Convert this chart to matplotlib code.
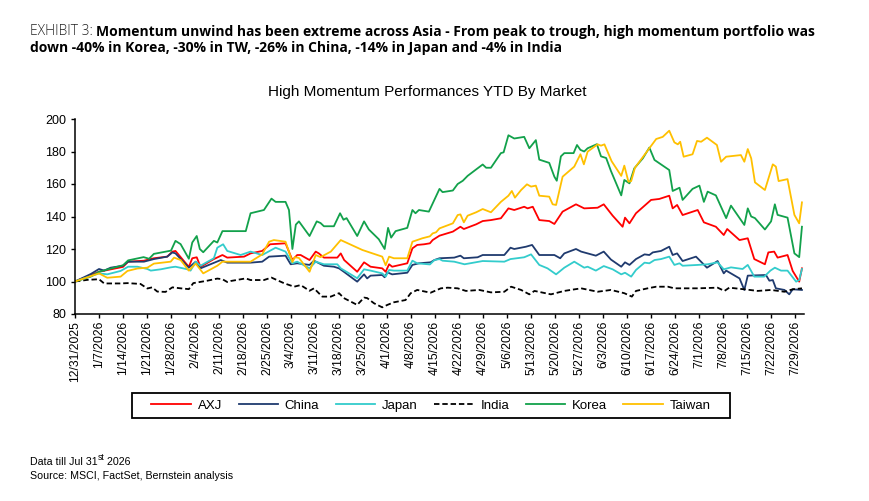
import numpy as np
import pandas as pd
import matplotlib
matplotlib.use("Agg")
import matplotlib.pyplot as plt
from matplotlib.patches import Rectangle

plt.rcParams['font.family'] = ['Liberation Sans', 'DejaVu Sans']

START = pd.Timestamp('2025-12-31')

# values: day offset from 12/31/2025 and index level
axj_days = [0, 7, 14, 15.5, 20.1, 23, 26.9, 28.4, 29.3, 33.2, 34.2, 35.5, 36.6, 40.5, 43, 44.4,
            49.3, 51.2, 54.6, 56.9, 61.4, 63.4, 64.8, 65.8, 68.4, 70.2, 71.1, 72.6, 76.5, 77.5,
            78.5, 82.3, 84.3, 86.2, 89.6, 90.6, 91.6, 92.5, 96.9, 98.4, 99.8, 101.8, 103.5, 104.3,
            106.3, 110.2, 112.4, 113.4, 117, 118.9, 121.3, 124.2, 126.4, 128.1, 131, 132, 133.5,
            135.4, 138.3, 139.8, 142.2, 146.1, 148.5, 152.4, 154.2, 156.8, 159.7, 160.4, 161.7,
            163.6, 168, 170.4, 173.3, 174.3, 175.6, 177.2, 181.6, 183.4, 186.9, 189.2, 190.2,
            193.8, 196.2, 198.1, 201.2, 202.2, 203.9, 204.9, 207.8, 209.3, 211.2, 212]
axj_vals = [100, 106, 109, 112.2, 112.8, 114.3, 115.3, 118.4, 118.8, 109, 114.3, 114.9, 109, 113.8, 116.3, 114.7,
            115.3, 117.3, 118.8, 122.9, 123.5, 113.2, 116.3, 116.3, 113.2, 118.4, 117.3, 114.7, 114.7, 117.3,
            113.2, 106, 111.8, 109.1, 108.1, 106, 110.6, 109.1, 111.2, 120.4, 122.5, 122.9, 123.5, 125.5,
            128.2, 130.7, 133.7, 132.3, 135.2, 137.2, 137.8, 138.9, 145, 144, 146, 145, 146,
            137.8, 137.2, 135.4, 143, 147.5, 145, 145.4, 147.5, 140.5, 133.7, 139.3, 135.8,
            142, 150.2, 150.8, 152.8, 145, 147.1, 140.9, 144, 136.4, 133.7, 128.6, 132.3,
            125.5, 126.6, 113.8, 110.6, 117.9, 118.4, 114.7, 116.3, 106.5, 99.9, 108.1]

china_days = [0, 4.6, 7, 8.5, 10.4, 14, 15.5, 20.1, 23, 26.9, 28.4, 29.3, 33.2, 35.2, 36.6, 42.5, 44.4,
              51.2, 54.6, 56.6, 61.4, 62.9, 64.8, 68.4, 69.7, 72.6, 75.5, 77, 78.4, 82.3, 84.3, 85.2,
              86.2, 89.6, 90.3, 91.1, 92.5, 96.9, 98.4, 100.3, 103.7, 104.8, 106.3, 110.6, 112.4, 113.4,
              117.4, 118.9, 125.2, 127, 128.1, 131.5, 133.3, 135.4, 139.8, 141.5, 142.7, 146.1, 147.6,
              151.9, 154.2, 156.3, 159.3, 160.4, 161.7, 163.6, 166.1, 167.5, 168.5, 170.9, 173.3, 174.3,
              175.6, 177.2, 181.1, 184.3, 187.4, 189.2, 189.9, 193.8, 195.2, 196.2, 201.5, 202.5, 203.5,
              204.4, 206.9, 208.3, 209.3, 212]
china_vals = [100, 104.6, 107.7, 106.7, 108.5, 109.7, 112.2, 112.2, 113.8, 115.3, 117.9, 117.3, 108.5, 112.2, 108.1, 113.2, 111.6,
              111.6, 112.2, 115.3, 115.9, 110.6, 111.2, 110.2, 112.8, 109.7, 109.1, 108.1, 106, 99.9, 104.4, 101.9,
              103.6, 104, 102.6, 105.6, 104.4, 105.4, 110.2, 111.2, 111.8, 113.2, 114.3, 114.7, 115.9, 114.3,
              114.9, 116.3, 116.3, 120.8, 120, 121.4, 122.5, 116.3, 116.3, 114.3, 117.3, 120, 118.4,
              115.9, 118.4, 113.5, 109.1, 111.8, 110.2, 113.8, 116.7, 116.3, 117.9, 118.8, 121.4, 116.3,
              117.3, 112.6, 115.3, 108.5, 112.6, 105, 106.7, 101.9, 94.8, 103.6, 104, 100.5, 100.9,
              95.8, 94.8, 92.1, 95.2, 94.8]

japan_days = [0, 7, 9.4, 13.3, 15.5, 18.2, 21.1, 22.1, 25, 27.9, 29.3, 32.8, 33.7, 35.2, 36.6, 40.5, 41.5,
              43.2, 44.4, 48.3, 51.2, 54.6, 58.5, 61.4, 63.4, 64.8, 68.4, 70.2, 72.6, 76.5, 77.5, 82.3,
              84.3, 86.2, 89.6, 90.6, 91.6, 93, 96.9, 98.4, 99.8, 103.5, 104.8, 106.3, 107.2, 110.6,
              113.6, 118.9, 125.2, 127, 131, 133, 135.4, 137.8, 140.3, 142.7, 145.6, 148.5, 149.5, 151.9,
              154.2, 156.8, 159.3, 160.4, 162.2, 163.6, 166.1, 167.5, 169, 170.9, 173.3, 174.8, 176.3,
              177.2, 181.6, 184.5, 187.4, 189.2, 191.3, 194.7, 196.2, 198.1, 201, 202.8, 204.1, 205.9,
              207.8, 210.3, 211.2, 212]
japan_vals = [100, 105, 104.4, 106.5, 109.1, 109.1, 107.7, 106.7, 107.5, 108.7, 109.1, 107.5, 106.7, 112.2, 109.7, 114.3, 120.8,
              122.9, 118.8, 116.3, 118.4, 116.3, 120.8, 118.4, 111.2, 112.2, 108.1, 112.2, 110.6, 110.6, 108.1, 102,
              107.5, 106.7, 105, 103, 107.1, 106.7, 106.7, 112.8, 111.2, 110.5, 113.2, 113.8, 112.8, 112.2,
              110.6, 112.6, 112.2, 113.8, 114.9, 116.7, 110.2, 108.1, 104.4, 108.5, 112.2, 108.5, 109.1, 106.7,
              109.5, 107.5, 104.4, 105.4, 103, 107.1, 111.6, 111.2, 113.2, 113.8, 115.3, 110.2, 111.2,
              109.7, 110.2, 110.6, 111.8, 107.5, 108.7, 107.7, 110.2, 103, 103, 106.7, 108.5, 106.7,
              106.7, 99.9, 100.9, 107.7]

india_days = [0, 3.6, 7, 8.5, 13.3, 15.3, 19.1, 21.1, 22.5, 24, 26.4, 28.4, 30.8, 33.2, 34.5, 38.6, 41.5,
              43, 44.4, 45.4, 49.8, 51.2, 55.1, 57.3, 61, 63.9, 65.8, 68.4, 69.7, 72.1, 74.6, 77, 78.4,
              82.3, 84.3, 85.2, 87.2, 89.6, 91.1, 93, 96.4, 97.9, 99.8, 103.7, 106.7, 108.7, 111.6, 114,
              117.9, 121.3, 125.2, 127.2, 130.1, 132.5, 134, 138.8, 142.7, 147.6, 152.4, 156.3, 160.2,
              162.4, 163.6, 167, 169.5, 172.9, 174.8, 181.6, 187.4, 189.4, 190.8, 195.2, 199.1, 203,
              206.9, 209.3, 212]
india_vals = [100, 101, 101.4, 98.8, 98.8, 99, 98.5, 95.7, 96.4, 93.8, 93.6, 96.4, 95.8, 95.3, 99, 100.5, 101.8,
              101.4, 99.7, 100.3, 101.9, 100.9, 100.9, 102.4, 98.9, 96.8, 97.8, 94.3, 95.8, 90.7, 90.7, 92.8, 89.8,
              85.6, 90.1, 89.8, 86.6, 84.1, 85.6, 87.2, 88.6, 92.8, 94.8, 93.1, 95.8, 96.2, 95.8, 94.2,
              94.8, 93.3, 93.7, 96.8, 94.8, 92.1, 94.2, 92.1, 94.2, 95.8, 93.7, 94.8, 92.8,
              90.7, 94.2, 95.8, 96.8, 96.8, 95.8, 95.8, 96.2, 94.2, 96.2, 95.2, 94.2, 94.8,
              93.7, 95.2, 95.8]

korea_days = [0, 4.6, 7, 14, 15.5, 20, 21.6, 23, 28, 29.3, 30.8, 33.2, 34.2, 35.5, 36.4, 37.4, 40.5, 41.5,
              43, 49.8, 51.2, 55.1, 57.3, 58.5, 61.4, 62.4, 63.4, 64.4, 65.3, 68.4, 70.5, 71.6, 72.6, 75.5,
              77.3, 78.3, 79.2, 82.3, 84.3, 85.7, 88.6, 90.3, 91.3, 92.2, 93.5, 96.9, 98.4, 99.3, 100.3,
              103.2, 106.3, 107.2, 110.2, 111.6, 113.1, 114.5, 117, 118.9, 119.9, 121.3, 124.2, 125, 126.4,
              128.1, 131, 132.5, 134.4, 135.4, 138.3, 139.8, 140.5, 141.7, 142.7, 145.4, 146.4, 147.4,
              148.5, 149.5, 152.2, 153.4, 154.9, 156.3, 159.3, 160.2, 161.7, 163.1, 165.6, 167.5, 169,
              173.3, 174.3, 176.3, 177.2, 180.1, 182.1, 183.4, 184.5, 186.9, 189.9, 191.3, 195.2, 196.2,
              197.2, 198.3, 201.2, 203, 204.1, 204.9, 207.8, 209.8, 211.2, 212]
korea_vals = [100, 103, 106, 110, 113, 115, 114, 117, 119, 125, 123, 114, 124, 128, 120, 118, 125, 124,
              131, 131, 142, 144, 151, 149, 149, 144, 120, 135, 137, 128, 137, 136, 134, 134,
              142, 138, 139, 128, 137, 132, 126, 120, 133, 127, 131, 133, 144, 142, 144,
              143, 157, 155, 156, 160, 162, 165, 169, 172, 170, 170, 179, 179.5, 190,
              188, 189, 182, 187, 175, 173, 164.5, 162, 177, 179, 179, 184, 181,
              180, 182, 184.5, 177, 176, 168, 153, 162.5, 160.4, 169.6, 175.8, 182.4, 174.8,
              168.6, 155.7, 157.7, 150.2, 157, 159, 149, 155.3, 153, 139, 146.7, 134.8, 145,
              140, 139, 132, 137, 147.5, 141, 139.3, 117.3, 115, 133.7]

taiwan_days = [0, 7, 9.4, 13.3, 15.3, 18.2, 21.1, 23, 27.9, 28.9, 30.8, 33.2, 35.2, 37.4, 41.5, 43, 51.2,
               54.6, 56.6, 58, 61.4, 63.4, 64.1, 65.3, 68.4, 70.2, 71.6, 74.6, 77.5, 83.8, 89.6, 90.6,
               91.6, 93, 96.9, 98.4, 99.8, 101.3, 103.5, 104.3, 105.3, 106.3, 110.2, 111.6, 112.4, 113.4,
               114.5, 117, 118.9, 121.3, 124.2, 126.4, 127.4, 128.3, 130.1, 131.8, 133, 134.4, 135.4,
               138.3, 139.3, 140.3, 142.2, 145.6, 147.4, 148.4, 149.5, 152.4, 153.4, 154.4, 156.5, 159.3,
               160.2, 161.4, 162.2, 163.3, 167.5, 169.5, 171.4, 173.3, 174.8, 175.8, 176.5, 177.5, 180.1,
               181.4, 182.6, 184.3, 187.2, 188.4, 189.9, 194.2, 195.2, 196.2, 197.2, 198.3, 201.2, 203.5,
               204.4, 205.2, 207.8, 209.8, 211.2, 212]
taiwan_vals = [100, 105, 102.3, 103, 106.5, 108, 108.5, 111, 112.2, 114.7, 113.2, 106.7, 111, 105, 109.7, 112.2, 112.2,
               116.7, 124.5, 125.5, 124.5, 112, 115, 114.5, 106, 116.3, 115, 118.4, 125.5, 119.4, 115.3, 110,
               115.3, 114.3, 114.3, 124.5, 125.5, 126.6, 127.8, 129.6, 130.3, 132.7, 135.8, 140.9, 141.3, 136.4,
               140.5, 142.6, 144.6, 142.6, 149, 152.8, 155.7, 151.6, 156.3, 159.8, 158.4, 159, 152.8,
               152.2, 147.5, 147.1, 164.5, 170.7, 178.3, 172.1, 179.9, 184.4, 183.6, 184.4, 174, 165,
               171.3, 161.4, 161.8, 170, 182, 187.7, 189, 192.8, 185.6, 184.4, 186, 176.8, 178.3,
               186.5, 186, 188.5, 184, 173.7, 176.8, 177.8, 173.7, 181.5, 175.8, 161, 156.3, 172.1,
               170.7, 161.8, 163, 141, 135.8, 148.7]

series = [
    ('AXJ', axj_days, axj_vals, '#ff0000', '-'),
    ('China', china_days, china_vals, '#1f3a6e', '-'),
    ('Japan', japan_days, japan_vals, '#33cccc', '-'),
    ('India', india_days, india_vals, '#000000', '--'),
    ('Korea', korea_days, korea_vals, '#12a14b', '-'),
    ('Taiwan', taiwan_days, taiwan_vals, '#ffc000', '-'),
]

fig = plt.figure(figsize=(8.69, 5.01), dpi=100)
ax = fig.add_axes([75 / 869, 1 - 314 / 501, (804 - 75) / 869, (314 - 119) / 501])

for name, days, vals, color, ls in series:
    x = START + pd.to_timedelta(np.array(days), unit='D')
    kw = dict(dashes=(3, 1.6)) if ls == '--' else {}
    ax.plot(x, vals, color=color, lw=1.3, ls=ls, label=name, **kw)

ax.set_ylim(80, 200)
ax.set_yticks(np.arange(80, 201, 20))
ax.set_xlim(START, START + pd.Timedelta(days=212.6))
ticks = pd.date_range('2025-12-31', '2026-07-29', freq='7D')
ax.set_xticks(ticks)
ax.set_xticklabels([f'{d.month}/{d.day}/{d.year}' for d in ticks], rotation=90, fontsize=8.7)
ax.tick_params(axis='y', labelsize=9, length=3, width=1)
ax.tick_params(axis='x', length=3, width=1, pad=2)
for s in ['top', 'right']:
    ax.spines[s].set_visible(False)
for s in ['left', 'bottom']:
    ax.spines[s].set_linewidth(1.1)

# legend box drawn separately so the side padding can differ from the vertical one
box = Rectangle((132 / 869, 1 - 418 / 501), 598 / 869, 25 / 501, transform=fig.transFigure,
                fill=False, edgecolor='black', linewidth=1.3)
fig.patches.append(box)
fig.legend(loc='center', bbox_to_anchor=(431 / 869, 1 - 405.5 / 501), ncol=6, frameon=False,
           fontsize=9.5, handlelength=3.0, handletextpad=0.5, columnspacing=1.25,
           borderaxespad=0, borderpad=0)

fig.text(427 / 869, 1 - 96 / 501, 'High Momentum Performances YTD By Market',
         ha='center', va='baseline', fontsize=11)

# header
hfont = ['Open Sans', 'DejaVu Sans']
t1 = fig.text(30 / 869, 1 - 35 / 501, 'EXHIBIT 3: ', fontsize=10, va='baseline',
              family=hfont, weight='light', color='#222222')
ax.annotate('Momentum unwind has been extreme across Asia - From peak to trough, high momentum portfolio was',
            xy=(1, 0), xycoords=t1, ha='left', va='bottom', fontsize=10,
            family=hfont, weight='bold', annotation_clip=False)
fig.text(30 / 869, 1 - 52 / 501, 'down -40% in Korea, -30% in TW, -26% in China, -14% in Japan and -4% in India',
         fontsize=10, va='baseline', family=hfont, weight='bold')

# footer
f1 = fig.text(30 / 869, 1 - 465 / 501, 'Data till Jul 31', fontsize=7.7, va='baseline')
f2 = ax.annotate('st', xy=(1, 0.55), xycoords=f1, ha='left', va='bottom', fontsize=6.2,
                 annotation_clip=False)
ax.annotate(' 2026', xy=(1, 0), xycoords=(f2, f1), ha='left', va='bottom', fontsize=7.7,
            annotation_clip=False)
fig.text(30 / 869, 1 - 479 / 501, 'Source: MSCI, FactSet, Bernstein analysis', fontsize=7.7, va='baseline')

fig.savefig('out.png', dpi=100)
